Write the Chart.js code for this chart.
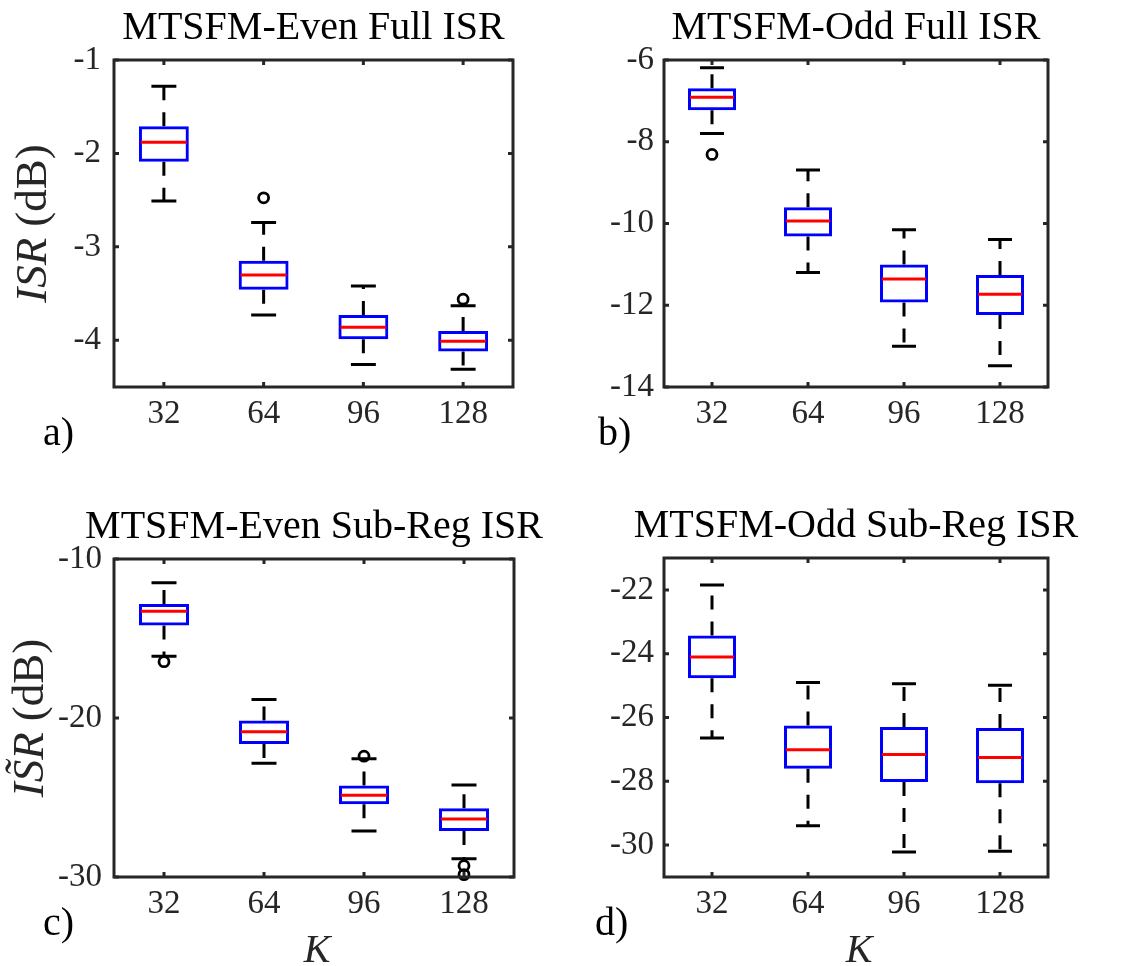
<!DOCTYPE html>
<html>
<head>
<meta charset="utf-8">
<script src="https://cdn.jsdelivr.net/npm/chart.js@4.4.1/dist/chart.umd.min.js"></script>
<style>
  body { margin: 0; background: #fff; }
  .panel { position: absolute; }
</style>
</head>
<body>
<div class="panel" style="left:0;top:0;width:562px;height:483px"><canvas id="chartA"></canvas></div>
<div class="panel" style="left:562px;top:0;width:563px;height:483px"><canvas id="chartB"></canvas></div>
<div class="panel" style="left:0;top:483px;width:562px;height:483px"><canvas id="chartC"></canvas></div>
<div class="panel" style="left:562px;top:483px;width:563px;height:483px"><canvas id="chartD"></canvas></div>
<script>
// categories (K)
var kLabels = ['32', '64', '96', '128'];

// a) MTSFM-Even Full ISR
var aLow  = [-2.51, -3.73, -4.26, -4.31];
var aQ1   = [-2.09, -3.46, -3.99, -4.12];
var aMed  = [-1.88, -3.30, -3.86, -4.01];
var aQ3   = [-1.71, -3.15, -3.73, -3.90];
var aHigh = [-1.28, -2.74, -3.42, -3.63];
var aOutK = ['64', '128'];
var aOutV = [-2.475, -3.56];
var aTicks = [-4, -3, -2, -1];

// b) MTSFM-Odd Full ISR
var bLow  = [-7.80, -11.20, -13.00, -13.48];
var bQ1   = [-7.23, -10.32, -11.93, -12.24];
var bMed  = [-6.91, -9.94, -11.36, -11.73];
var bQ3   = [-6.69, -9.60, -11.00, -11.26];
var bHigh = [-6.19, -8.69, -10.15, -10.39];
var bOutK = ['32'];
var bOutV = [-8.31];
var bTicks = [-14, -12, -10, -8, -6];

// c) MTSFM-Even Sub-Reg ISR
var cLow  = [-16.11, -22.84, -27.10, -28.85];
var cQ1   = [-14.18, -21.63, -25.43, -27.10];
var cMed  = [-13.29, -20.87, -24.86, -26.35];
var cQ3   = [-12.83, -20.16, -24.25, -25.68];
var cHigh = [-11.49, -18.84, -22.57, -24.21];
var cOutK = ['32', '96', '128', '128'];
var cOutV = [-16.46, -22.40, -29.29, -29.85];
var cTicks = [-30, -20, -10];

// d) MTSFM-Odd Sub-Reg ISR
var dLow  = [-26.64, -29.39, -30.22, -30.19];
var dQ1   = [-24.77, -27.61, -28.02, -28.06];
var dMed  = [-24.10, -27.01, -27.16, -27.25];
var dQ3   = [-23.43, -26.25, -26.30, -26.33];
var dHigh = [-21.85, -24.90, -24.94, -24.99];
var dOutK = [];
var dOutV = [];
var dTicks = [-30, -28, -26, -24, -22];

var FONT = '"Liberation Serif", "Times New Roman", serif';
var AXIS_COLOR = '#262626';

function boxDecor(p) {
  return {
    id: 'boxDecor',
    beforeDatasetsDraw: function (chart) {
      var c = chart.ctx, x = chart.scales.x, y = chart.scales.y;
      var step = x.getPixelForValue(1) - x.getPixelForValue(0);
      c.save();
      c.strokeStyle = '#000';
      c.lineWidth = 3;
      for (var i = 0; i < kLabels.length; i++) {
        var cx = x.getPixelForValue(i);
        // dashed whiskers, from the box outward
        c.setLineDash([14, 12]);
        c.beginPath();
        c.moveTo(cx, y.getPixelForValue(p.q3[i]));
        c.lineTo(cx, y.getPixelForValue(p.high[i]));
        c.moveTo(cx, y.getPixelForValue(p.q1[i]));
        c.lineTo(cx, y.getPixelForValue(p.low[i]));
        c.stroke();
        // caps
        c.setLineDash([]);
        c.beginPath();
        c.moveTo(cx - step * 0.125, y.getPixelForValue(p.high[i]));
        c.lineTo(cx + step * 0.125, y.getPixelForValue(p.high[i]));
        c.moveTo(cx - step * 0.125, y.getPixelForValue(p.low[i]));
        c.lineTo(cx + step * 0.125, y.getPixelForValue(p.low[i]));
        c.stroke();
      }
      c.restore();
    },
    afterDatasetsDraw: function (chart) {
      var c = chart.ctx, x = chart.scales.x, y = chart.scales.y;
      var step = x.getPixelForValue(1) - x.getPixelForValue(0);
      c.save();
      c.strokeStyle = '#ff0000';
      c.lineWidth = 3;
      for (var i = 0; i < kLabels.length; i++) {
        var cx = x.getPixelForValue(i);
        var py = y.getPixelForValue(p.med[i]);
        c.beginPath();
        c.moveTo(cx - step * 0.25 + 2, py);
        c.lineTo(cx + step * 0.25 - 2, py);
        c.stroke();
      }
      c.restore();
    },
    afterDraw: function (chart) {
      var c = chart.ctx, a = chart.chartArea, x = chart.scales.x, y = chart.scales.y;
      c.save();
      // axes box with inward ticks
      c.strokeStyle = AXIS_COLOR;
      c.lineWidth = 3;
      c.strokeRect(a.left, a.top, a.right - a.left, a.bottom - a.top);
      c.beginPath();
      p.ticks.forEach(function (v) {
        var py = y.getPixelForValue(v);
        c.moveTo(a.left, py); c.lineTo(a.left + 5, py);
        c.moveTo(a.right, py); c.lineTo(a.right - 5, py);
      });
      for (var i = 0; i < kLabels.length; i++) {
        var px = x.getPixelForValue(i);
        c.moveTo(px, a.bottom); c.lineTo(px, a.bottom - 5);
        c.moveTo(px, a.top); c.lineTo(px, a.top + 5);
      }
      c.stroke();

      var mid = (a.left + a.right) / 2;
      c.fillStyle = '#000';
      c.textBaseline = 'alphabetic';
      // title
      c.font = '40px ' + FONT;
      c.textAlign = 'center';
      c.fillText(p.title, mid, a.top - 21);
      // panel tag
      c.textAlign = 'left';
      c.fillText(p.tag, p.tagX, a.bottom + 58);
      // x label
      if (p.showK) {
        c.font = 'italic 40px ' + FONT;
        c.textAlign = 'center';
        c.fillStyle = AXIS_COLOR;
        c.fillText('K', mid + 3, a.bottom + 85);
      }
      // y label (italic symbol + unit)
      if (p.ySym) {
        c.fillStyle = AXIS_COLOR;
        var fi = 'italic 45px ' + FONT, fn = '45px ' + FONT;
        c.font = fi; var w1 = c.measureText(p.ySym).width;
        c.font = fn; var w2 = c.measureText(' (dB)').width;
        c.translate(p.yLabelX, (a.top + a.bottom) / 2);
        c.rotate(-Math.PI / 2);
        c.textAlign = 'left';
        c.textBaseline = 'middle';
        c.font = fi; c.fillText(p.ySym, -(w1 + w2) / 2, 0);
        c.font = fn; c.fillText(' (dB)', -(w1 + w2) / 2 + w1, 0);
      }
      c.restore();
    }
  };
}

function makePanel(id, p) {
  return new Chart(document.getElementById(id).getContext('2d'), {
    type: 'bar',
    data: {
      labels: kLabels,
      datasets: [{
        type: 'bar',
        data: p.q1.map(function (v, i) { return [v, p.q3[i]]; }),
        backgroundColor: 'rgba(0,0,0,0)',
        borderColor: '#0000ff',
        borderWidth: 3,
        borderSkipped: false,
        barPercentage: 0.5,
        categoryPercentage: 1
      }, {
        type: 'scatter',
        data: p.outK.map(function (k, i) { return { x: k, y: p.outV[i] }; }),
        pointStyle: 'circle',
        pointRadius: 5,
        pointBorderWidth: 2.8,
        pointBorderColor: '#000',
        pointBackgroundColor: 'rgba(0,0,0,0)',
        clip: false
      }]
    },
    options: {
      responsive: true,
      maintainAspectRatio: false,
      animation: false,
      layout: { padding: p.pad },
      plugins: { legend: { display: false }, tooltip: { enabled: false } },
      scales: {
        x: {
          type: 'category',
          offset: true,
          grid: { display: false, drawTicks: false },
          border: { display: false },
          ticks: { font: { family: FONT, size: 33 }, color: AXIS_COLOR, padding: 8, maxRotation: 0, autoSkip: false },
          afterFit: function (s) { s.height = 60; }
        },
        y: {
          type: 'linear',
          min: p.min,
          max: p.max,
          grid: { display: false, drawTicks: false },
          border: { display: false },
          ticks: { font: { family: FONT, size: 33 }, color: AXIS_COLOR, padding: p.yPad,
                   callback: function (v) { return String(v); } },
          afterBuildTicks: function (s) { s.ticks = p.ticks.map(function (v) { return { value: v }; }); },
          afterFit: function (s) { s.width = 100; }
        }
      }
    },
    plugins: [boxDecor(p)]
  });
}

makePanel('chartA', {
  low: aLow, q1: aQ1, med: aMed, q3: aQ3, high: aHigh, outK: aOutK, outV: aOutV, ticks: aTicks,
  min: -4.5, max: -1, pad: { left: 14, top: 60, right: 49, bottom: 36 }, yPad: 13,
  title: 'MTSFM-Even Full ISR', tag: 'a)', tagX: 43, ySym: 'ISR', yLabelX: 34, showK: false
});
makePanel('chartB', {
  low: bLow, q1: bQ1, med: bMed, q3: bQ3, high: bHigh, outK: bOutK, outV: bOutV, ticks: bTicks,
  min: -14, max: -6, pad: { left: 2, top: 60, right: 77, bottom: 36 }, yPad: 10,
  title: 'MTSFM-Odd Full ISR', tag: 'b)', tagX: 36, ySym: null, showK: false
});
makePanel('chartC', {
  low: cLow, q1: cQ1, med: cMed, q3: cQ3, high: cHigh, outK: cOutK, outV: cOutV, ticks: cTicks,
  min: -30, max: -10, pad: { left: 14, top: 76, right: 48, bottom: 29 }, yPad: 12,
  title: 'MTSFM-Even Sub-Reg ISR', tag: 'c)', tagX: 43, ySym: 'IS\u0303R', yLabelX: 31, showK: true
});
makePanel('chartD', {
  low: dLow, q1: dQ1, med: dMed, q3: dQ3, high: dHigh, outK: dOutK, outV: dOutV, ticks: dTicks,
  min: -31, max: -21, pad: { left: 2, top: 75, right: 77, bottom: 29 }, yPad: 10,
  title: 'MTSFM-Odd Sub-Reg ISR', tag: 'd)', tagX: 33, ySym: null, showK: true
});
</script>
</body>
</html>
